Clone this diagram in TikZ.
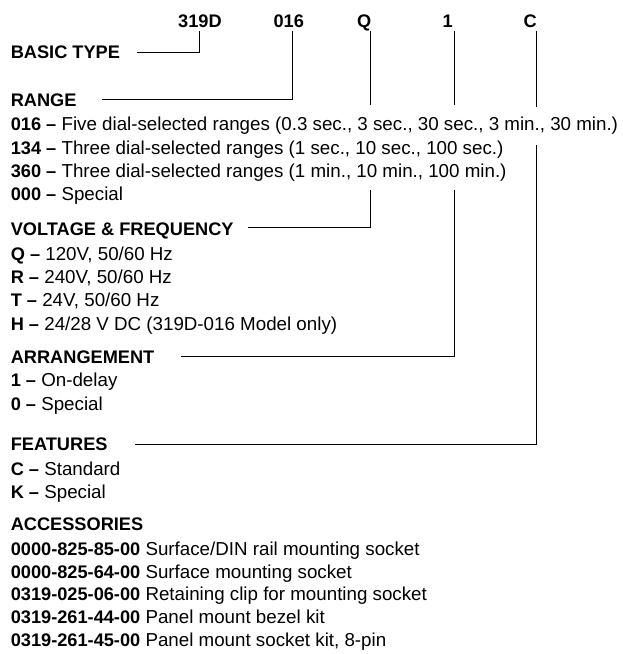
\documentclass[tikz,border=0pt]{standalone}
\usepackage{fontspec}
\setmainfont{Liberation Sans}
\newcommand\bb[1]{{\fontsize{18.2}{20}\selectfont\bfseries #1}}
\begin{document}
\begin{tikzpicture}[x=1pt,y=-1pt,
  txt/.style={anchor=base west,inner sep=0pt,font=\fontsize{18.75}{20}\selectfont},
  head/.style={anchor=base west,inner sep=0pt,font=\fontsize{18.2}{20}\selectfont\bfseries},
  hdr/.style={anchor=base,inner sep=0pt,font=\fontsize{18.2}{20}\selectfont\bfseries},
  lead/.style={line width=1pt,line cap=rect}]
\useasboundingbox (0,0) rectangle (623,654);
% header codes
\node[hdr] (h1) at (200,27.3) {319D};
\node[hdr] (h2) at (288.7,27.3) {016};
\node[hdr] (h3) at (364.2,27.3) {Q};
\node[hdr] (h4) at (447.7,27.3) {1};
\node[hdr] (h5) at (530.3,27.3) {C};
% left column
\def\xl{10.6}
\node[head] (basic) at (\xl,58.7) {BASIC TYPE};
\node[head] (range) at (\xl,106.7) {RANGE};
\node[txt] (r1) at (\xl,130.7) {\bb{016 –} Five dial-selected ranges (0.3 sec., 3 sec., 30 sec., 3 min., 30 min.)};
\node[txt] (r2) at (\xl,154.3) {\bb{134 –} Three dial-selected ranges (1 sec., 10 sec., 100 sec.)};
\node[txt] (r3) at (\xl,177.3) {\bb{360 –} Three dial-selected ranges (1 min., 10 min., 100 min.)};
\node[txt] (r4) at (\xl,200.7) {\bb{000 –} Special};
\node[head] (volt) at (\xl,235) {VOLTAGE \& FREQUENCY};
\node[txt] (v1) at (\xl,260) {\bb{Q –} 120V, 50/60 Hz};
\node[txt] (v2) at (\xl,283.3) {\bb{R –} 240V, 50/60 Hz};
\node[txt] (v3) at (\xl,306.7) {\bb{T –} 24V, 50/60 Hz};
\node[txt] (v4) at (\xl,330) {\bb{H –} 24/28 V DC (319D-016 Model only)};
\node[head] (arr) at (\xl,363.3) {ARRANGEMENT};
\node[txt] (a1) at (\xl,386.7) {\bb{1 –} On-delay};
\node[txt] (a2) at (\xl,410) {\bb{0 –} Special};
\node[head] (feat) at (\xl,450) {FEATURES};
\node[txt] (f1) at (\xl,475) {\bb{C –} Standard};
\node[txt] (f2) at (\xl,498.3) {\bb{K –} Special};
\node[head] (acc) at (\xl,530) {ACCESSORIES};
\node[txt] (c1) at (\xl,555) {\bb{0000-825-85-00} Surface/DIN rail mounting socket};
\node[txt] (c2) at (\xl,578.3) {\bb{0000-825-64-00} Surface mounting socket};
\node[txt] (c3) at (\xl,600.7) {\bb{0319-025-06-00} Retaining clip for mounting socket};
\node[txt] (c4) at (\xl,623.3) {\bb{0319-261-44-00} Panel mount bezel kit};
\node[txt] (c5) at (\xl,646) {\bb{0319-261-45-00} Panel mount socket kit, 8-pin};
% leader coordinates
\coordinate (t1) at (199.3,31.7);  \coordinate (e1) at (137,52);
\coordinate (t2) at (292.3,31.7);  \coordinate (e2) at (102.7,99.3);
\coordinate (t3) at (370.5,31.7);  \coordinate (b3) at (370.5,104.5);
\coordinate (s3) at (370.5,190);   \coordinate (e3) at (248.3,227.3);
\coordinate (t4) at (454.2,31.7);  \coordinate (b4) at (454.2,104.5);
\coordinate (s4) at (454.2,190);   \coordinate (e4) at (181.7,356.7);
\coordinate (t5) at (536.7,31.7);  \coordinate (b5) at (536.7,106);
\coordinate (s5) at (536.7,145.7); \coordinate (e5) at (135,444);
% leaders
\draw[lead] (t1) |- (e1);
\draw[lead] (t2) |- (e2);
\draw[lead] (t3) -- (b3);
\draw[lead] (s3) |- (e3);
\draw[lead] (t4) -- (b4);
\draw[lead] (s4) |- (e4);
\draw[lead] (t5) -- (b5);
\draw[lead] (s5) |- (e5);
\end{tikzpicture}
\end{document}
